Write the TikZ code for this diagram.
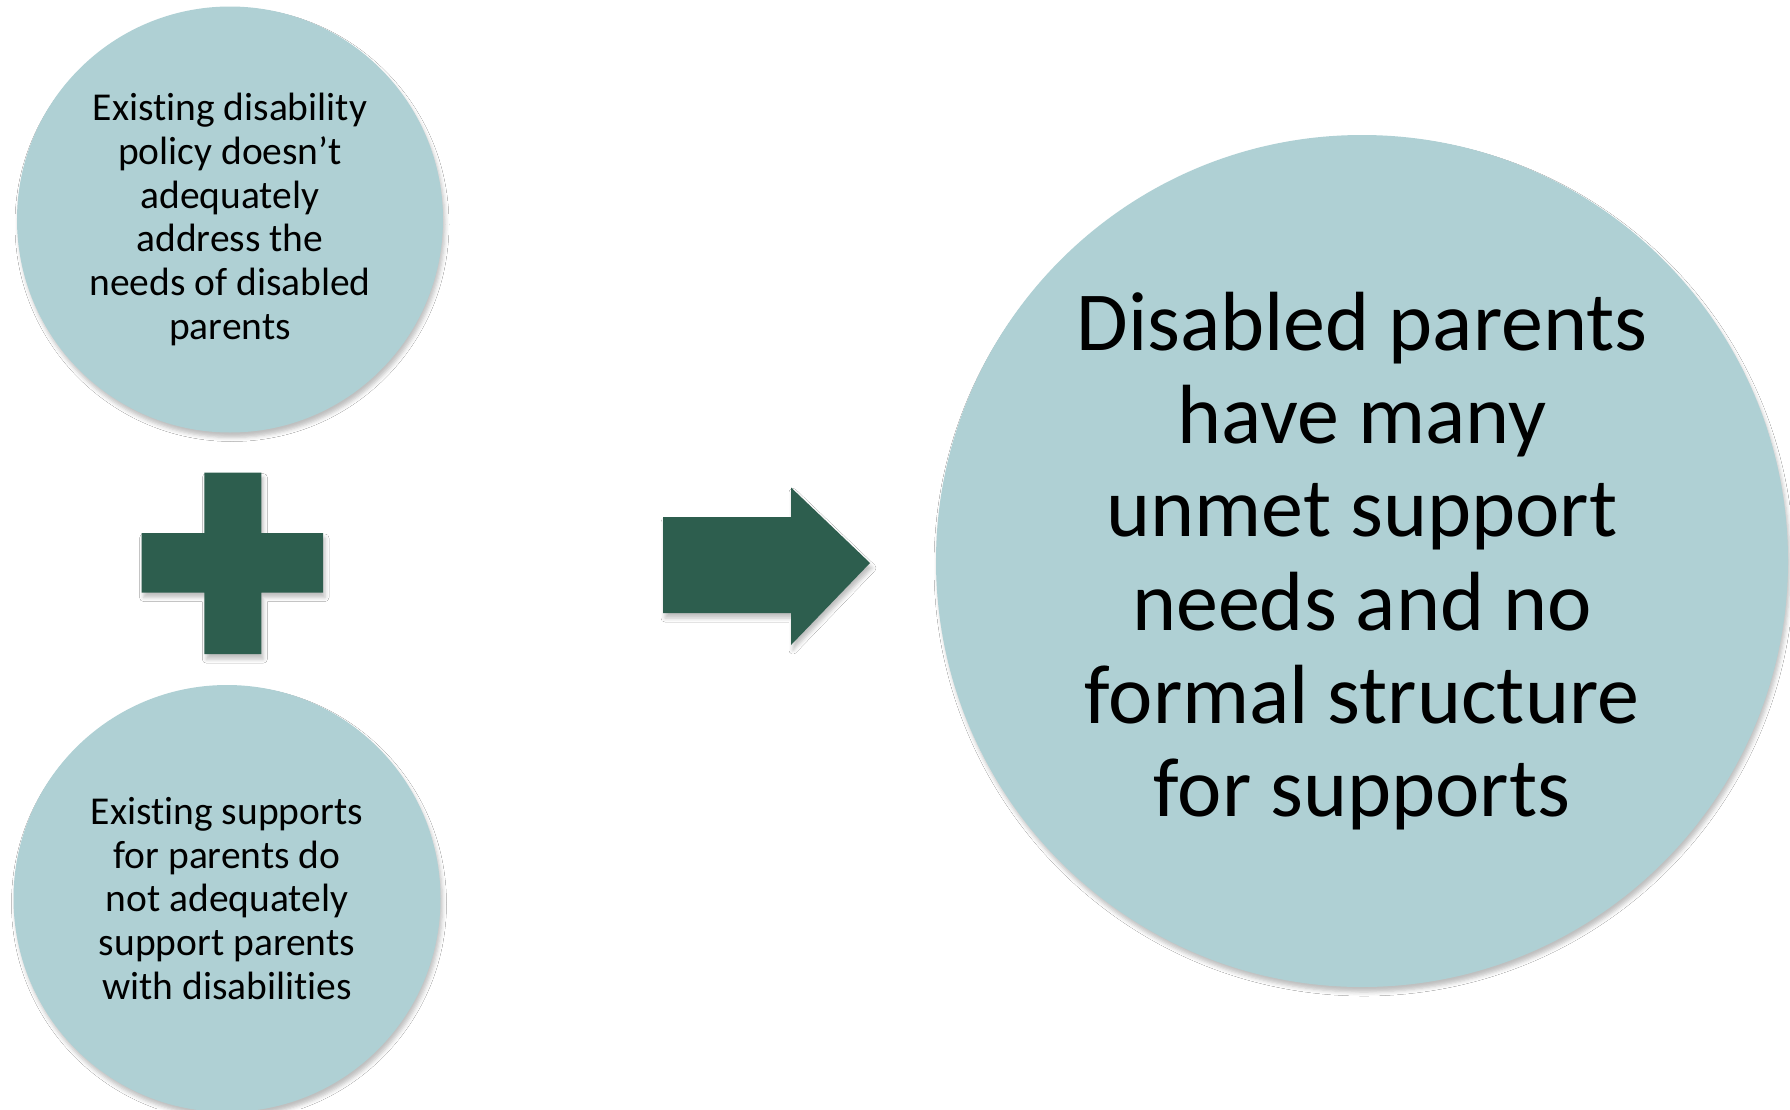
\documentclass[tikz,border=0pt]{standalone}
\usepackage{fontspec}
\setmainfont{Carlito}[Ligatures=NoCommon]
\usetikzlibrary{shadows.blur}
\definecolor{circfill}{HTML}{AFD0D4}
\definecolor{plusgreen}{HTML}{2D5E4E}
\begin{document}
\begin{tikzpicture}[x=1pt,y=-1pt,
  softshadow/.style={blur shadow={shadow xshift=2pt, shadow yshift=-5pt, shadow blur radius=4pt, shadow opacity=25}},
  bubble/.style={circle, fill=circfill, draw=none, inner sep=0pt, align=center, text=black, softshadow},
  smalltext/.style={font=\fontsize{39.5}{43.8}\selectfont},
  bigtext/.style={font=\fontsize{84}{93.2}\selectfont},
  greenshape/.style={fill=plusgreen, draw=none, softshadow}]
\useasboundingbox (0,0) rectangle (1790,1109);
\fill[white] (0,0) rectangle (1790,1109);

\node[bubble, smalltext, minimum size=426pt] (policy) at (230,219.5)
  {Existing disability\\policy doesn’t\\adequately\\address the\\needs of disabled\\parents};

\node[bubble, smalltext, minimum size=427pt] (supports) at (227,898.5)
  {Existing supports\\for parents do\\not adequately\\support parents\\with disabilities};

\node[bubble, bigtext, minimum size=852pt] (result) at (1362,561)
  {Disabled parents\\have many\\unmet support\\needs and no\\formal structure\\for supports};

% plus sign
\path[greenshape] (204.3,472.6) -- (261.4,472.6) -- (261.4,533) -- (323,533) -- (323,592.5)
  -- (261.4,592.5) -- (261.4,654.1) -- (204.3,654.1) -- (204.3,592.5) -- (141.6,592.5)
  -- (141.6,533) -- (204.3,533) -- cycle;

% block arrow
\path[greenshape] (663,517) -- (791,517) -- (791,487.5) -- (870,563) -- (791,645)
  -- (791,613) -- (663,613) -- cycle;
\end{tikzpicture}
\end{document}
